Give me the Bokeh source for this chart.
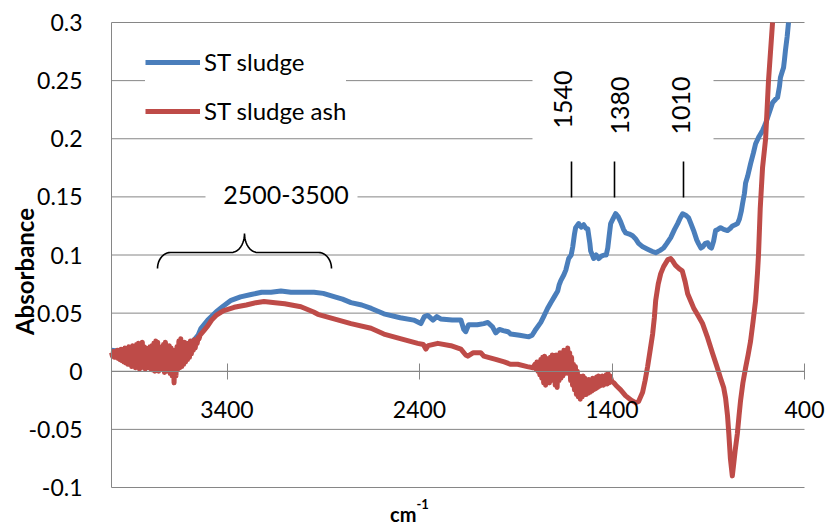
import math
from bokeh.plotting import figure
from bokeh.models import Range1d, FixedTicker, PrintfTickFormatter, Legend, LegendItem, Label
from bokeh.embed import file_html
from bokeh.resources import INLINE

# ---------------- data ----------------
series_names = ["ST sludge", "ST sludge ash"]

wn_sludge = [4000, 3950, 3900, 3850, 3800, 3750, 3700, 3650, 3600, 3570, 3550, 3535, 3500, 3457, 3420,
             3379, 3330, 3275, 3220, 3171, 3120, 3068, 3010, 2948, 2900, 2840, 2800, 2756, 2700, 2650,
             2585, 2500, 2430, 2393, 2375, 2357, 2330, 2310, 2290, 2230, 2185, 2170, 2160, 2145, 2100,
             2066, 2045, 2020, 2004, 1985, 1965, 1940, 1926, 1880, 1832, 1815, 1800, 1770, 1755, 1735,
             1718, 1700, 1682, 1675, 1666, 1650, 1640, 1625, 1612, 1604, 1595, 1589, 1573, 1560, 1547,
             1535, 1526, 1515, 1511, 1495, 1482, 1469, 1455, 1440, 1430, 1422, 1415, 1407, 1395, 1381,
             1368, 1355, 1340, 1329, 1310, 1293, 1278, 1262, 1240, 1215, 1190, 1173, 1150, 1132, 1115,
             1095, 1075, 1059, 1045, 1033, 1015, 1002, 990, 976, 960, 950, 938, 929, 915, 903,
             893, 883, 872, 862, 850, 836, 820, 800, 785, 774, 760, 748, 738, 728, 722,
             712, 706, 695, 680, 665, 654, 636, 618, 605, 592, 578, 566, 550, 540, 530,
             525, 515, 509, 504, 499, 490, 483]
abs_sludge = [0.018, 0.017, 0.015, 0.014, 0.013, 0.013, 0.014, 0.016, 0.024, 0.027, 0.031, 0.037, 0.044, 0.051, 0.056,
              0.061, 0.064, 0.066, 0.068, 0.068, 0.069, 0.068, 0.068, 0.068, 0.067, 0.064, 0.062, 0.059, 0.057, 0.054,
              0.0494, 0.046, 0.044, 0.041, 0.047, 0.048, 0.044, 0.047, 0.045, 0.044, 0.044, 0.036, 0.034, 0.040, 0.040,
              0.041, 0.042, 0.038, 0.033, 0.036, 0.035, 0.034, 0.032, 0.031, 0.0296, 0.031, 0.035, 0.042, 0.047, 0.054,
              0.059, 0.064, 0.069, 0.074, 0.078, 0.083, 0.087, 0.097, 0.100, 0.107, 0.118, 0.1235, 0.127, 0.124, 0.126,
              0.123, 0.1225, 0.110, 0.1036, 0.097, 0.100, 0.097, 0.099, 0.100, 0.100, 0.106, 0.116, 0.127, 0.131, 0.1355,
              0.133, 0.1285, 0.122, 0.119, 0.118, 0.1165, 0.114, 0.110, 0.107, 0.105, 0.103, 0.102, 0.104, 0.106, 0.110,
              0.115, 0.122, 0.127, 0.132, 0.1355, 0.134, 0.132, 0.127, 0.121, 0.113, 0.1096, 0.106, 0.107, 0.110, 0.1105,
              0.107, 0.106, 0.112, 0.121, 0.122, 0.1235, 0.122, 0.121, 0.123, 0.125, 0.126, 0.127, 0.131, 0.138, 0.144,
              0.153, 0.162, 0.168, 0.1786, 0.188, 0.1957, 0.202, 0.207, 0.212, 0.218, 0.225, 0.231, 0.234, 0.2355, 0.245,
              0.2526, 0.258, 0.261, 0.268, 0.276, 0.288, 0.300]

# ST sludge ash: noisy band 4000-3540 (sampled every 5 cm-1)
wn_ash_noise1 = list(range(4000, 3535, -5))
abs_ash_noise1 = [0.016, 0.013, 0.017, 0.012, 0.017, 0.012, 0.018, 0.011, 0.018, 0.010,
                  0.019, 0.009, 0.019, 0.008, 0.020, 0.007, 0.019, 0.006, 0.021, 0.006,
                  0.020, 0.004, 0.022, 0.005, 0.021, 0.003, 0.023, 0.004, 0.024, 0.002,
                  0.022, 0.003, 0.025, 0.004, 0.021, 0.002, 0.020, 0.004, 0.019, 0.003,
                  0.021, 0.002, 0.022, 0.001, 0.024, 0.000, 0.026, 0.001, 0.025, 0.000,
                  0.021, 0.002, 0.020, 0.003, 0.023, -0.001, 0.025, 0.000, 0.019, 0.001,
                  0.022, -0.002, 0.020, -0.004, 0.018, -0.010, 0.016, -0.004, 0.021, 0.002,
                  0.026, 0.003, 0.028, 0.004, 0.024, 0.006, 0.025, 0.008, 0.022, 0.010,
                  0.024, 0.012, 0.026, 0.015, 0.025, 0.018, 0.027, 0.020, 0.026, 0.024,
                  0.029, 0.028, 0.031]
# smooth part 3530-1810
wn_ash_mid = [3530, 3520, 3500, 3480, 3457, 3420, 3363, 3300, 3250, 3208, 3150, 3100, 3016,
              2950, 2928, 2844, 2756, 2652, 2585, 2500, 2409, 2380, 2367, 2355, 2305, 2237, 2185, 2160,
              2149, 2120, 2082, 2066, 2000, 1960, 1926, 1890, 1840, 1810]
abs_ash_mid = [0.033, 0.035, 0.039, 0.044, 0.048, 0.052, 0.055, 0.057, 0.059, 0.060, 0.059, 0.058, 0.0555,
               0.051, 0.049, 0.045, 0.041, 0.037, 0.032, 0.028, 0.024, 0.023, 0.019, 0.022, 0.024, 0.022, 0.019, 0.014,
               0.013, 0.016, 0.016, 0.013, 0.010, 0.008, 0.006, 0.006, 0.004, 0.003]
# noisy band 1800-1410 (sampled every 5 cm-1)
wn_ash_noise2 = list(range(1800, 1405, -5))
abs_ash_noise2 = [0.006, 0.002, 0.008, 0.000, 0.006, -0.003, 0.010, -0.006, 0.012, -0.010,
                  0.013, -0.012, 0.008, -0.008, 0.011, -0.010, 0.012, -0.006, 0.014, -0.008,
                  0.012, -0.012, 0.014, -0.014, 0.013, -0.008, 0.016, -0.006, 0.015, -0.004,
                  0.018, -0.002, 0.017, 0.000, 0.020, -0.002, 0.016, -0.008, 0.012, -0.012,
                  0.006, -0.016, 0.004, -0.020, 0.000, -0.022, -0.004, -0.024, -0.006, -0.022,
                  -0.004, -0.020, -0.006, -0.020, -0.008, -0.019, -0.007, -0.018, -0.008, -0.017,
                  -0.006, -0.016, -0.007, -0.015, -0.005, -0.014, -0.004, -0.013, -0.005, -0.012,
                  -0.004, -0.012, -0.005, -0.011, -0.003, -0.011, -0.002, -0.010, -0.004]
# smooth part 1400-566 (curve leaves the plot at 0.3)
wn_ash_low = [1400, 1390, 1380, 1355, 1330, 1300, 1277, 1262, 1241, 1228,
              1215, 1200, 1189, 1180, 1173, 1160, 1147, 1132, 1121, 1110, 1095, 1085, 1070, 1050, 1035,
              1020, 1007, 990, 976, 950, 929, 903, 877, 855, 836, 820, 810, 800, 793, 785,
              775, 768, 760, 749, 740, 732, 720, 706, 693, 680, 667, 654, 644, 639, 630,
              618, 602, 587, 566]
abs_ash_low = [-0.009, -0.010, -0.012, -0.016, -0.021, -0.025, -0.027, -0.026, -0.018, -0.008,
               0.004, 0.020, 0.032, 0.046, 0.061, 0.075, 0.084, 0.090, 0.093, 0.096, 0.097, 0.095, 0.091, 0.088, 0.0864,
               0.077, 0.0666, 0.060, 0.0545, 0.047, 0.0408, 0.0287, 0.015, 0.004, -0.006, -0.014, -0.023, -0.038, -0.054, -0.075,
               -0.090, -0.080, -0.068, -0.054, -0.038, -0.025, -0.010, 0.003, 0.014, 0.026, 0.043, 0.061, 0.085, 0.100, 0.140,
               0.175, 0.200, 0.250, 0.300]

wn_ash = wn_ash_noise1 + wn_ash_mid + wn_ash_noise2 + wn_ash_low
abs_ash = abs_ash_noise1 + abs_ash_mid + abs_ash_noise2 + abs_ash_low

x_ticks = [3400, 2400, 1400, 400]
y_ticks = [-0.1, -0.05, 0, 0.05, 0.1, 0.15, 0.2, 0.25, 0.3]
peak_labels = ["1540", "1380", "1010"]
region_label = "2500-3500"
y_title = "Absorbance"
x_title_base, x_title_sup = "cm", "-1"

# ---------------- layout / styles ----------------
BLUE = "#4A7EBB"
RED = "#BE4B48"
GRID = "#868686"
FONT = "Lato"
W, H = 825, 527
# plot-area corners (pixels) in the reference
L, R, T, B = 111, 804, 22, 487
X_START, X_END = 4000, 400
Y_MIN, Y_MAX = -0.1, 0.3


def dx(px):
    return X_START + (px - L) / (R - L) * (X_END - X_START)


def dy(py):
    return Y_MAX - (py - T) / (B - T) * (Y_MAX - Y_MIN)


# the frame spans the whole canvas so that no text is clipped
p = figure(width=W, height=H, x_range=Range1d(dx(0), dx(W)), y_range=Range1d(dy(H), dy(0)),
           output_backend="svg", toolbar_location=None,
           min_border_left=0, min_border_right=0, min_border_top=0, min_border_bottom=0)
p.outline_line_color = None
p.background_fill_color = "white"
p.border_fill_color = "white"
p.xgrid.visible = False
p.ygrid.visible = False

# horizontal gridlines limited to the plot area
p.segment(x0=[X_START] * len(y_ticks), x1=[X_END] * len(y_ticks), y0=y_ticks, y1=y_ticks,
          line_color=GRID, line_width=1)

ya = p.yaxis[0]
ya.fixed_location = X_START
ya.bounds = (Y_MIN, Y_MAX)
ya.ticker = FixedTicker(ticks=y_ticks)
ya.formatter = PrintfTickFormatter(format="%g")
ya.axis_line_color = GRID
ya.major_tick_line_color = None
ya.minor_tick_line_color = None
ya.major_tick_out = 0
ya.major_tick_in = 0
ya.major_label_standoff = 29
ya.major_label_text_font = FONT
ya.major_label_text_font_size = "23px"
ya.major_label_text_color = "black"

xa = p.xaxis[0]
xa.fixed_location = 0
xa.bounds = (X_END, X_START)
xa.ticker = FixedTicker(ticks=x_ticks)
xa.axis_line_color = GRID
xa.major_tick_line_color = GRID
xa.minor_tick_line_color = None
xa.major_tick_in = 8
xa.major_tick_out = 8
xa.major_label_standoff = 22
xa.major_label_text_font = FONT
xa.major_label_text_font_size = "23px"
xa.major_label_text_color = "black"

# white boxes that interrupt the gridlines behind the text annotations
p.quad(left=[dx(532), dx(205)], right=[dx(713), dx(357)], top=[dy(58), dy(180)], bottom=[dy(150), dy(212)],
       fill_color="white", line_color=None)

rb = p.line(wn_sludge, abs_sludge, line_color=BLUE, line_width=5, line_join="round", line_cap="butt")
rr = p.line(wn_ash, abs_ash, line_color=RED, line_width=5, line_join="round", line_cap="butt")

legend = Legend(items=[LegendItem(label=series_names[0], renderers=[rb]),
                       LegendItem(label=series_names[1], renderers=[rr])],
                location=(145, 402), margin=0, padding=12, spacing=20,
                glyph_width=55, glyph_height=22, label_height=22, label_standoff=4,
                border_line_color=None, background_fill_color="white", background_fill_alpha=1,
                label_text_font=FONT, label_text_font_size="24px", label_text_color="black")
p.add_layout(legend)

# brace over the 2500-3500 region (screen-pixel geometry mapped to data)
bx, by = [], []
n = 12
for i in range(n + 1):
    t = math.pi / 2 * i / n
    bx.append(170 - 13 * math.cos(t)); by.append(268 - 16 * math.sin(t))
for i in range(n + 1):
    t = math.pi / 2 * i / n
    bx.append(231 + 13 * math.sin(t)); by.append(233 + 19 * math.cos(t))
half = list(zip(bx, by))
full = half + [(488 - x, y) for (x, y) in reversed(half)]
p.line([dx(x) for x, _ in full], [dy(y) for _, y in full], line_color="black", line_width=1.6)

p.add_layout(Label(x=dx(285.5), y=dy(194), text=region_label, text_align="center",
                   text_baseline="alphabetic", text_font=FONT, text_font_size="25px", text_color="black"))

# peak markers
peak_px = [571, 614, 683]
label_px = [562, 619, 680]
label_py = [99, 105, 105]
p.segment(x0=[dx(v) for v in peak_px], y0=[dy(161)] * 3, x1=[dx(v) for v in peak_px], y1=[dy(197)] * 3,
          line_color="black", line_width=1.6)
for txt, lx, ly in zip(peak_labels, label_px, label_py):
    p.add_layout(Label(x=dx(lx), y=dy(ly), text=txt, angle=math.pi / 2, text_align="center",
                       text_baseline="alphabetic", text_font=FONT, text_font_size="25px", text_color="black"))

# axis titles
p.add_layout(Label(x=dx(24), y=dy(271), text=y_title, angle=math.pi / 2, text_align="center",
                   text_baseline="middle", text_font=FONT, text_font_size="24px",
                   text_font_style="bold", text_color="black"))
p.add_layout(Label(x=dx(416), y=dy(513), text=x_title_base, text_align="right",
                   text_baseline="alphabetic", text_font=FONT, text_font_size="20px",
                   text_font_style="bold", text_color="black"))
p.add_layout(Label(x=dx(416), y=dy(503), text=x_title_sup, text_align="left",
                   text_baseline="alphabetic", text_font=FONT, text_font_size="13px",
                   text_font_style="bold", text_color="black"))

open("out.html", "w").write(file_html(p, INLINE))
